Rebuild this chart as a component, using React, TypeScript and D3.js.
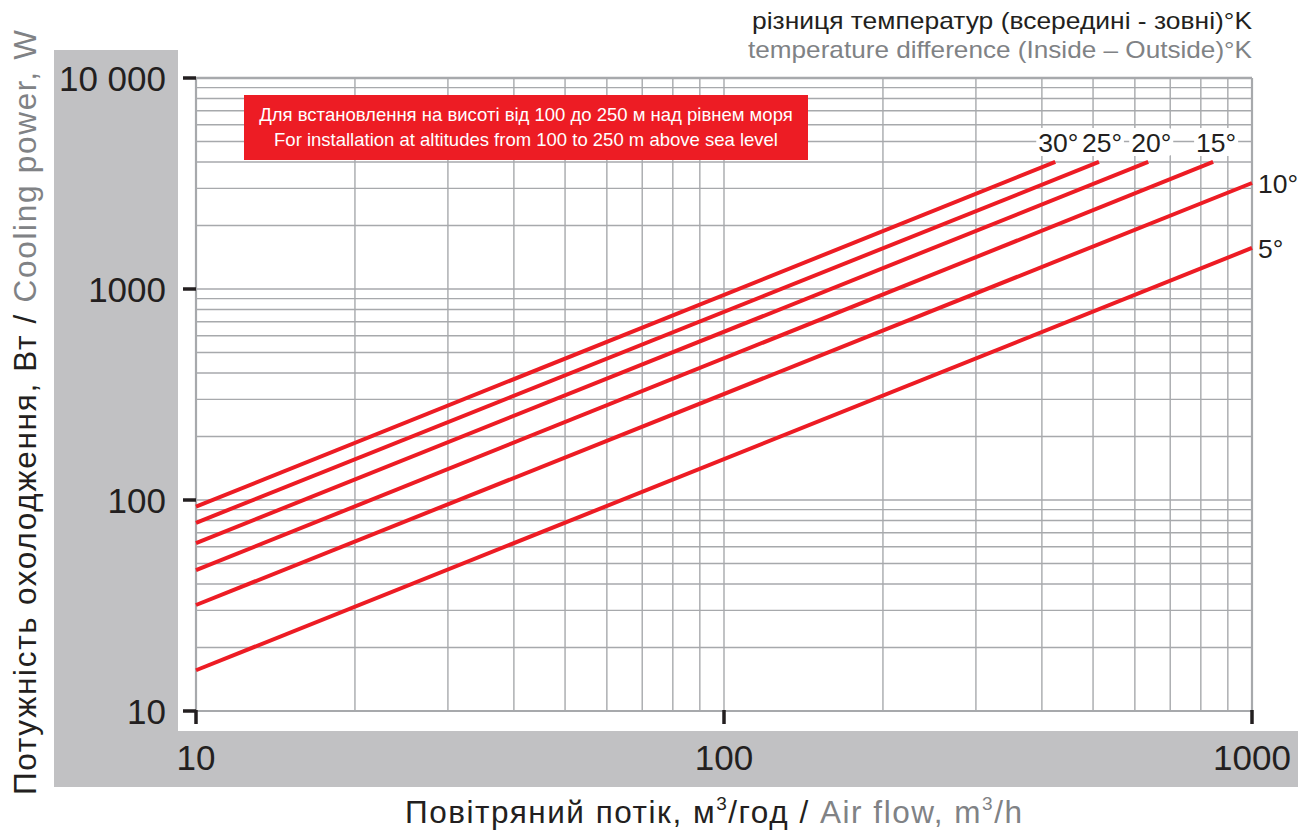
import React from "react";
import * as d3 from "d3";

const deltaT = [30, 25, 20, 15, 10, 5];
const flowStart = [10, 10, 10, 10, 10, 10];
const powerStart = [93, 78, 62.5, 46.5, 31.8, 15.6];
const flowEnd = [424, 513, 636, 844, 1000, 1000];
const powerEnd = [4000, 4000, 4000, 4000, 3180, 1565];

const xTicks = [10, 100, 1000];
const xTickLabels = ["10", "100", "1000"];
const yTicks = [10, 100, 1000, 10000];
const yTickLabels = ["10", "100", "1000", "10 000"];

const W = 1298;
const H = 834;
const FONT = "'Liberation Sans', Arial, Helvetica, sans-serif";
const DARK = "#231f20";
const GREYTXT = "#808285";
const RED = "#ed1c24";
const GRID = "#a7a9ac";
const BAND = "#c1c1c3";

function minorValues(lo: number, hi: number): number[] {
  const out: number[] = [];
  for (let d = lo; d < hi; d *= 10) {
    for (let k = 1; k <= 10; k++) out.push(d * k);
  }
  return Array.from(new Set(out));
}

export default function App() {
  const x = d3.scaleLog().domain([10, 1000]).range([196, 1252]);
  const y = d3.scaleLog().domain([10, 10000]).range([711, 78]);
  const line = d3
    .line<[number, number]>()
    .x((d) => x(d[0]))
    .y((d) => y(d[1]));

  const xGrid = minorValues(10, 1000);
  const yGrid = minorValues(10, 10000);

  return (
    <svg
      width={W}
      height={H}
      style={{ position: "absolute", left: 0, top: 0, background: "#fff" }}
      fontFamily={FONT}
    >
      <rect x={0} y={0} width={W} height={H} fill="#fff" />
      {/* grey bands */}
      <rect x={54} y={50} width={124} height={737} fill={BAND} />
      <rect x={54} y={731} width={W - 54} height={56} fill={BAND} />

      {/* grid */}
      {xGrid.map((v, i) => (
        <line key={"gx" + i} x1={x(v)} x2={x(v)} y1={y(10000)} y2={y(10)} stroke={GRID} strokeWidth={1.4} />
      ))}
      {yGrid.map((v, i) => (
        <line key={"gy" + i} x1={x(10)} x2={x(1000)} y1={y(v)} y2={y(v)} stroke={GRID} strokeWidth={1.4} />
      ))}
      {/* frame */}
      <line x1={x(10)} x2={x(1000)} y1={y(10000)} y2={y(10000)} stroke={GRID} strokeWidth={2.5} />
      <line x1={x(10)} x2={x(10)} y1={y(10000)} y2={y(10)} stroke={GRID} strokeWidth={2.2} />
      <line x1={x(1000)} x2={x(1000)} y1={y(10000)} y2={y(10)} stroke={GRID} strokeWidth={2.2} />
      <line x1={x(10)} x2={x(1000)} y1={y(10)} y2={y(10)} stroke={GRID} strokeWidth={2.2} />

      {/* ticks */}
      {yTicks.map((v, i) => (
        <line key={"ty" + i} x1={183} x2={x(10)} y1={y(v)} y2={y(v)} stroke={DARK} strokeWidth={3.5} />
      ))}
      {xTicks.map((v, i) => (
        <line key={"tx" + i} x1={x(v)} x2={x(v)} y1={y(10) - 1} y2={y(10) + 13} stroke={DARK} strokeWidth={3.5} />
      ))}

      {/* tick labels */}
      {yTicks.map((v, i) => (
        <text key={"ly" + i} x={166} y={y(v) + 13} textAnchor="end" fontSize={35} fill={DARK}>
          {yTickLabels[i]}
        </text>
      ))}
      {xTicks.map((v, i) => (
        <text key={"lx" + i} x={x(v)} y={770} textAnchor="middle" fontSize={35} fill={DARK}>
          {xTickLabels[i]}
        </text>
      ))}

      {/* red note box */}
      <rect x={244} y={95} width={564} height={65} fill={RED} />
      <text x={526} y={121} textAnchor="middle" fontSize={18.5} fill="#fff">
        Для встановлення на висоті від 100 до 250 м над рівнем моря
      </text>
      <text x={526} y={146} textAnchor="middle" fontSize={18.5} fill="#fff">
        For installation at altitudes from 100 to 250 m above sea level
      </text>

      {/* curves */}
      {deltaT.map((t, i) => (
        <path
          key={"c" + t}
          d={line([
            [flowStart[i], powerStart[i]],
            [flowEnd[i], powerEnd[i]],
          ]) as string}
          fill="none"
          stroke={RED}
          strokeWidth={4}
        />
      ))}

      {/* curve labels */}
      {deltaT.map((t, i) => {
        const ex = x(flowEnd[i]);
        const ey = y(powerEnd[i]);
        if (flowEnd[i] < 1000) {
          const cx = ex + 3;
          return (
            <g key={"l" + t}>
              <rect x={cx - 22} y={128} width={44} height={28} rx={5} fill="#fff" />
              <text x={cx} y={152} textAnchor="middle" fontSize={26.5} fill={DARK}>
                {t}°
              </text>
            </g>
          );
        }
        return (
          <text key={"l" + t} x={ex + 6} y={ey + 10} textAnchor="start" fontSize={26.5} fill={DARK}>
            {t}°
          </text>
        );
      })}

      {/* top-right legend title */}
      <text x={1252} y={29} textAnchor="end" fontSize={24} fill={DARK} textLength={500} lengthAdjust="spacingAndGlyphs">
        різниця температур (всередині - зовні)°K
      </text>
      <text x={1252} y={58} textAnchor="end" fontSize={24} fill={GREYTXT} textLength={504} lengthAdjust="spacingAndGlyphs">
        temperature difference (Inside – Outside)°K
      </text>

      {/* axis titles */}
      <text x={405} y={823} textAnchor="start" fontSize={31.5} textLength={617} lengthAdjust="spacing">
        <tspan fill={DARK}>Повітряний потік, м</tspan>
        <tspan fill={DARK} fontSize={19} dy={-13}>3</tspan>
        <tspan fill={DARK} dy={13}>/год / </tspan>
        <tspan fill={GREYTXT}>Air flow, m</tspan>
        <tspan fill={GREYTXT} fontSize={19} dy={-13}>3</tspan>
        <tspan fill={GREYTXT} dy={13}>/h</tspan>
      </text>
      <text
        transform="translate(36,795) rotate(-90)"
        textAnchor="start"
        fontSize={31.5}
        textLength={765}
        lengthAdjust="spacing"
      >
        <tspan fill={DARK}>Потужність охолодження, Вт / </tspan>
        <tspan fill={GREYTXT}>Cooling power, W</tspan>
      </text>
    </svg>
  );
}
